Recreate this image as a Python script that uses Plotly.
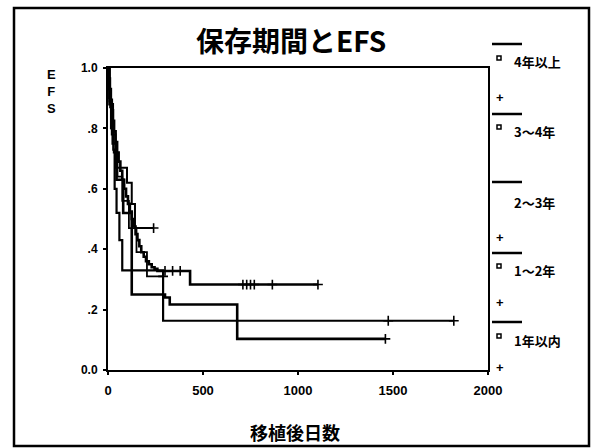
import plotly.graph_objects as go

# ---------------- data ----------------
group_labels = ["4年以上", "3～4年", "2～3年", "1～2年", "1年以内"]

# Kaplan-Meier step points: (day, survival after event)
g1_days = [0, 5, 12, 20, 28, 35, 45, 60, 75, 290]
g1_surv = [1.0, 0.93, 0.87, 0.80, 0.73, 0.60, 0.52, 0.43, 0.33, 0.163]
g1_cens = [1475, 1820]

g2_days = [0, 8, 25, 45, 80, 125, 300, 325, 680]
g2_surv = [1.0, 0.88, 0.75, 0.63, 0.52, 0.25, 0.24, 0.217, 0.103]
g2_cens = [1460]

g3_days = [0, 5, 10, 15, 20, 26, 32, 40, 48, 56, 65, 75, 85, 95, 105, 115, 125,
           135, 145, 155, 165, 175, 188, 200, 215, 230, 245, 260, 432]
g3_surv = [1.0, 0.965, 0.93, 0.895, 0.86, 0.825, 0.79, 0.755, 0.72, 0.69, 0.66,
           0.63, 0.60, 0.575, 0.55, 0.525, 0.50, 0.475, 0.45, 0.43, 0.41, 0.39,
           0.375, 0.36, 0.35, 0.34, 0.335, 0.328, 0.283]
g3_cens = [300, 340, 380, 710, 730, 750, 770, 865, 1105]

g4_days = [0, 8, 20, 40, 100, 125, 142]
g4_surv = [1.0, 0.89, 0.78, 0.67, 0.62, 0.55, 0.47]
g4_cens = [240]

g5_days = [0, 6, 15, 30, 50, 75, 110, 150, 205]
g5_surv = [1.0, 0.90, 0.80, 0.72, 0.64, 0.56, 0.47, 0.39, 0.31]
g5_cens = [290]

groups = [
    (g3_days, g3_surv, g3_cens, 2.6),
    (g1_days, g1_surv, g1_cens, 2.2),
    (g2_days, g2_surv, g2_cens, 2.6),
    (g4_days, g4_surv, g4_cens, 2.0),
    (g5_days, g5_surv, g5_cens, 1.8),
]

x_ticks = [0, 500, 1000, 1500, 2000]
y_ticks = [0, 0.2, 0.4, 0.6, 0.8, 1.0]
y_tick_text = ["0.0", ".2", ".4", ".6", ".8", "1.0"]

title_text = "保存期間とEFS"
x_title = "移植後日数"
y_title = "EFS"

# ---------------- layout geometry ----------------
W, H = 594, 448
L, R, T, B = 108, 488, 68, 370


def px(x):
    return (x - L) / (R - L)


def py(y):
    return (B - y) / (B - T)


def surv_at(days, surv, t):
    s = surv[0]
    for d, v in zip(days, surv):
        if d <= t:
            s = v
    return s


fig = go.Figure()
for days, surv, cens, lw in groups:
    end = max(cens) if cens else days[-1]
    xs = list(days) + [end]
    ys = list(surv) + [surv[-1]]
    fig.add_trace(go.Scatter(x=xs, y=ys, mode="lines", line_shape="hv",
                             line=dict(color="black", width=lw),
                             showlegend=False, hoverinfo="skip"))
    cy = [surv_at(days, surv, c) for c in cens]
    fig.add_trace(go.Scatter(x=cens, y=cy, mode="markers",
                             marker=dict(symbol="cross-thin-open", size=7, color="black",
                                         line=dict(color="black", width=1.6)),
                             showlegend=False, hoverinfo="skip"))

font_family = "Liberation Sans, Arial, Noto Sans CJK JP"
cjk_family = "Noto Sans CJK JP, Liberation Sans"

ann = []
shapes = []

# title
ann.append(dict(text=f"<b>{title_text}</b>", x=px(291), y=py(40), xref="paper", yref="paper",
                showarrow=False, font=dict(size=28, color="black", family=cjk_family),
                xanchor="center", yanchor="middle"))
# y title (stacked letters, one text)
ann.append(dict(text="<b>" + "<br>".join(list(y_title)) + "</b>", x=px(51), y=py(92),
                xref="paper", yref="paper", showarrow=False,
                font=dict(size=13, color="black", family=font_family),
                xanchor="center", yanchor="middle"))
# x title
ann.append(dict(text=f"<b>{x_title}</b>", x=px(295), y=py(432), xref="paper", yref="paper",
                showarrow=False, font=dict(size=18, color="black", family=cjk_family),
                xanchor="center", yanchor="middle"))

# legend (SPSS style, drawn with shapes & text)
leg_line_y = [44, 114, 182, 253, 322]
leg_label_y = [62, 131, 203, 270, 340]
leg_square = [True, True, False, True, True]
leg_plus_y = [97, None, 237, 302, 367]
for lab, ly, ty, sq, pyy in zip(group_labels, leg_line_y, leg_label_y, leg_square, leg_plus_y):
    shapes.append(dict(type="line", xref="paper", yref="paper",
                       x0=px(492), x1=px(522), y0=py(ly), y1=py(ly),
                       line=dict(color="black", width=2.5)))
    if sq:
        shapes.append(dict(type="rect", xref="paper", yref="paper",
                           x0=px(497), x1=px(501), y0=py(ty - 6), y1=py(ty - 2),
                           line=dict(color="black", width=1.5)))
    ann.append(dict(text=f"<b>{lab}</b>", x=px(512), y=py(ty), xref="paper", yref="paper",
                    showarrow=False, font=dict(size=13, color="black", family=cjk_family),
                    xanchor="left", yanchor="middle"))
    if pyy is not None:
        ann.append(dict(text="<b>+</b>", x=px(500), y=py(pyy), xref="paper", yref="paper",
                        showarrow=False, font=dict(size=13, color="black", family=font_family),
                        xanchor="center", yanchor="middle"))

# outer frame
shapes.append(dict(type="rect", xref="paper", yref="paper",
                   x0=px(14), x1=px(589), y0=py(446), y1=py(8),
                   line=dict(color="black", width=2.5), layer="below"))

fig.update_layout(
    width=W, height=H,
    margin=dict(l=L, r=W - R, t=T, b=H - B),
    paper_bgcolor="white", plot_bgcolor="white",
    showlegend=False,
    annotations=ann, shapes=shapes,
    xaxis=dict(range=[0, 2000], tickvals=x_ticks, ticktext=[str(v) for v in x_ticks],
               showline=True, mirror=True, linecolor="black", linewidth=2,
               ticks="outside", ticklen=3, tickcolor="black", tickwidth=2,
               showgrid=False, zeroline=False, ticklabelstandoff=4,
               tickfont=dict(size=13, color="black", family=font_family, weight="bold")),
    yaxis=dict(range=[0, 1.0], tickvals=y_ticks, ticktext=y_tick_text,
               showline=True, mirror=True, linecolor="black", linewidth=2,
               ticks="outside", ticklen=3, tickcolor="black", tickwidth=2,
               showgrid=False, zeroline=False, ticklabelstandoff=3,
               tickfont=dict(size=12, color="black", family=font_family, weight="bold")),
)

fig.write_html("out.html")
